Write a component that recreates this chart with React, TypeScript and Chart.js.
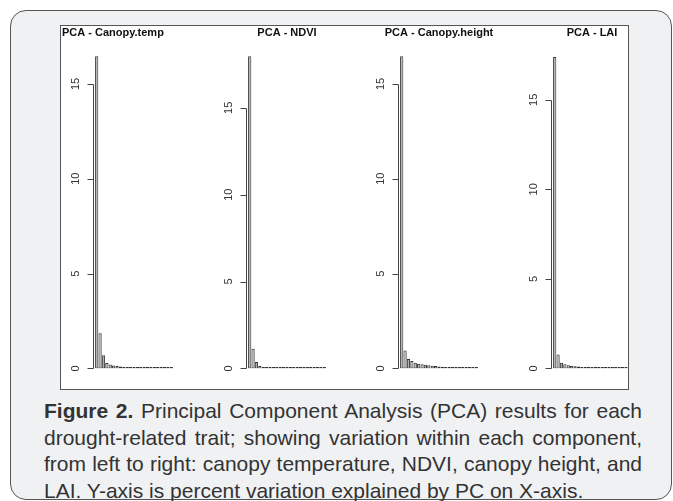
import React, { useEffect, useRef } from "react";
import { Chart, registerables } from "chart.js";

Chart.register(...registerables);

// ---- data ----
const pcLabels = [
  "PC1", "PC2", "PC3", "PC4", "PC5", "PC6", "PC7", "PC8", "PC9", "PC10", "PC11", "PC12",
  "PC13", "PC14", "PC15", "PC16", "PC17", "PC18", "PC19", "PC20", "PC21", "PC22", "PC23",
];

const panelTitles = ["PCA - Canopy.temp", "PCA - NDVI", "PCA - Canopy.height", "PCA - LAI"];

const canopyTempValues = [
  16.46, 1.85, 0.69, 0.28, 0.2, 0.15, 0.12, 0.1, 0.08, 0.07, 0.06, 0.05,
  0.045, 0.04, 0.035, 0.03, 0.028, 0.025, 0.022, 0.02, 0.018, 0.015, 0.012,
];
const ndviValues = [
  17.97, 1.13, 0.37, 0.14, 0.08, 0.06, 0.05, 0.04, 0.035, 0.03, 0.025, 0.02,
  0.02, 0.018, 0.015, 0.013, 0.012, 0.01, 0.01, 0.008, 0.007, 0.006, 0.005,
];
const canopyHeightValues = [
  16.46, 0.94, 0.5, 0.39, 0.3, 0.25, 0.22, 0.19, 0.17, 0.14, 0.12, 0.1,
  0.09, 0.08, 0.07, 0.06, 0.05, 0.045, 0.04, 0.035, 0.03, 0.025, 0.02,
];
const laiValues = [
  17.4, 0.77, 0.32, 0.23, 0.18, 0.14, 0.12, 0.1, 0.08, 0.07, 0.06, 0.05,
  0.045, 0.04, 0.035, 0.03, 0.025, 0.02, 0.018, 0.015, 0.012, 0.01, 0.008,
];

const yTickValues = [0, 5, 10, 15];
const yAxisMax = [17.02, 18.58, 17.02, 18.03];

const FONT = "'Liberation Sans', Arial, Helvetica, sans-serif";

// R-style y axis: line only from first to last tick, with outward ticks
const rAxisPlugin = {
  id: "rAxis",
  afterDraw(chart: any) {
    const y = chart.scales.y;
    const ctx = chart.ctx;
    const x = Math.round(chart.chartArea.left - 2) + 0.5;
    const top = Math.round(y.getPixelForValue(yTickValues[yTickValues.length - 1])) + 0.5;
    const bottom = Math.round(y.getPixelForValue(yTickValues[0])) + 0.5;
    ctx.save();
    ctx.strokeStyle = "#444";
    ctx.lineWidth = 1;
    ctx.beginPath();
    ctx.moveTo(x, top);
    ctx.lineTo(x, bottom);
    for (const t of yTickValues) {
      const py = Math.round(y.getPixelForValue(t)) + 0.5;
      ctx.moveTo(x - 6, py);
      ctx.lineTo(x, py);
    }
    ctx.stroke();
    ctx.restore();
  },
};

// R-style main title: centred over the plot region (or left-aligned for the clipped first panel)
const rTitlePlugin = {
  id: "rTitle",
  afterDraw(chart: any, _args: any, opts: any) {
    const ctx = chart.ctx;
    const area = chart.chartArea;
    ctx.save();
    ctx.font = `bold 11px ${FONT}`;
    ctx.fillStyle = "#111";
    ctx.textBaseline = "middle";
    if (opts.align === "start") {
      ctx.textAlign = "left";
      ctx.fillText(opts.text, opts.startX, 7.2);
    } else {
      ctx.textAlign = "center";
      ctx.fillText(opts.text, (area.left + area.right) / 2, 7.2);
    }
    ctx.restore();
  },
};

type PanelProps = {
  title: string;
  values: number[];
  yMax: number;
  left: number;
  first: boolean;
};

const CANVAS_W = 153;
const CANVAS_H = 362;

function Panel({ title, values, yMax, left, first }: PanelProps) {
  const ref = useRef<HTMLCanvasElement | null>(null);
  useEffect(() => {
    if (!ref.current) return;
    const axisW = 35;
    const chart = new Chart(ref.current, {
      type: "bar",
      data: {
        labels: pcLabels,
        datasets: [
          {
            data: values,
            backgroundColor: "#b0b0b0",
            borderColor: "#333333",
            borderWidth: 1,
            borderSkipped: false,
            barPercentage: 0.95,
            categoryPercentage: 1,
            minBarLength: 1.5,
          } as any,
        ],
      },
      options: {
        responsive: false,
        animation: false,
        devicePixelRatio: 1,
        layout: { padding: { left: 0, right: 40, top: 19, bottom: 5.5 } },
        plugins: {
          legend: { display: false },
          tooltip: { enabled: false },
          title: { display: false },
          rTitle: { text: title, align: first ? "start" : "center", startX: 2 },
        },
        scales: {
          x: { display: false },
          y: {
            min: 0,
            max: yMax,
            afterFit: (s: any) => {
              s.width = axisW;
            },
            afterBuildTicks: (s: any) => {
              s.ticks = yTickValues.map((v) => ({ value: v }));
            },
            grid: { display: false, drawTicks: false },
            border: { display: false },
            ticks: {
              minRotation: 90,
              maxRotation: 90,
              crossAlign: "center",
              padding: 13,
              color: "#333",
              font: { family: FONT, size: 11 },
            },
          },
        },
      } as any,
      plugins: [rAxisPlugin, rTitlePlugin],
    });
    return () => chart.destroy();
  }, [title, values, yMax, first]);
  return (
    <canvas
      ref={ref}
      width={CANVAS_W}
      height={CANVAS_H}
      style={{ position: "absolute", left, top: 0, width: CANVAS_W, height: CANVAS_H }}
    />
  );
}

const panelSeries = [canopyTempValues, ndviValues, canopyHeightValues, laiValues];
const panelLefts = [-1, 152, 304, 457];

export default function App() {
  return (
    <div
      style={{
        position: "fixed",
        left: 0,
        top: 0,
        width: 673,
        height: 501,
        background: "#ffffff",
        overflow: "hidden",
      }}
    >
      <div
        style={{
          position: "absolute",
          left: 10,
          top: 10,
          width: 662,
          height: 490,
          boxSizing: "border-box",
          border: "1.5px solid #555",
          borderRadius: 16,
          background: "#f0f1f3",
        }}
      />
      <div
        style={{
          position: "absolute",
          left: 60,
          top: 25,
          width: 569,
          height: 365,
          boxSizing: "border-box",
          border: "1px solid #555",
          background: "#ffffff",
          overflow: "hidden",
        }}
      >
        {panelTitles.map((t, i) => (
          <Panel
            key={t}
            title={t}
            values={panelSeries[i]}
            yMax={yAxisMax[i]}
            left={panelLefts[i]}
            first={i === 0}
          />
        ))}
      </div>
      <div
        style={{
          position: "absolute",
          left: 44,
          top: 398,
          width: 598,
          fontFamily: FONT,
          fontSize: 21,
          lineHeight: "26.5px",
          color: "#333",
          textAlign: "justify",
        }}
      >
        <b>Figure 2.</b> Principal Component Analysis (PCA) results for each drought-related
        trait; showing variation within each component, from left to right: canopy temperature,
        NDVI, canopy height, and LAI. Y-axis is percent variation explained by PC on X-axis.
      </div>
    </div>
  );
}
